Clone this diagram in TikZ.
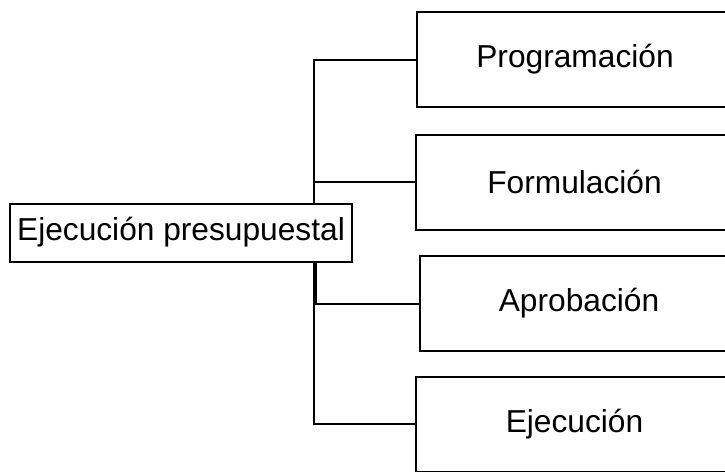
\documentclass[tikz,border=0pt]{standalone}
\usepackage{fontspec}
\setmainfont{Liberation Sans}
\begin{document}
\begin{tikzpicture}[x=1pt,y=-1pt,
  box/.style={draw=black,line width=2pt,fill=white,inner sep=0pt,
    font=\fontsize{31.7}{38}\selectfont},
  conn/.style={draw=black,line width=2pt}]
\useasboundingbox (0,0) rectangle (725,471);
\clip (0,0) rectangle (725,471);
\node[box,minimum width=342pt,minimum height=58pt] (main) at (181,232.5) {Ejecución presupuestal};
\node[box,minimum width=316pt,minimum height=95pt] (prog) at (575,59.5) {Programación};
\node[box,minimum width=317pt,minimum height=95pt] (form) at (574.5,182) {Formulación};
\node[box,minimum width=319pt,minimum height=95pt] (aprob) at (579,303.5) {Aprobación};
\node[box,minimum width=317pt,minimum height=95pt] (ejec) at (574.5,424) {Ejecución};
\coordinate (trunk) at (314,0);
\coordinate (trunkb) at (315.5,0);
\draw[conn] (main.north -| trunk) |- (prog.west);
\draw[conn] (main.north -| trunk) |- (form.west);
\draw[conn] (main.south -| trunkb) |- (aprob.west);
\draw[conn] (main.south -| trunk) |- (ejec.west);
\end{tikzpicture}
\end{document}
